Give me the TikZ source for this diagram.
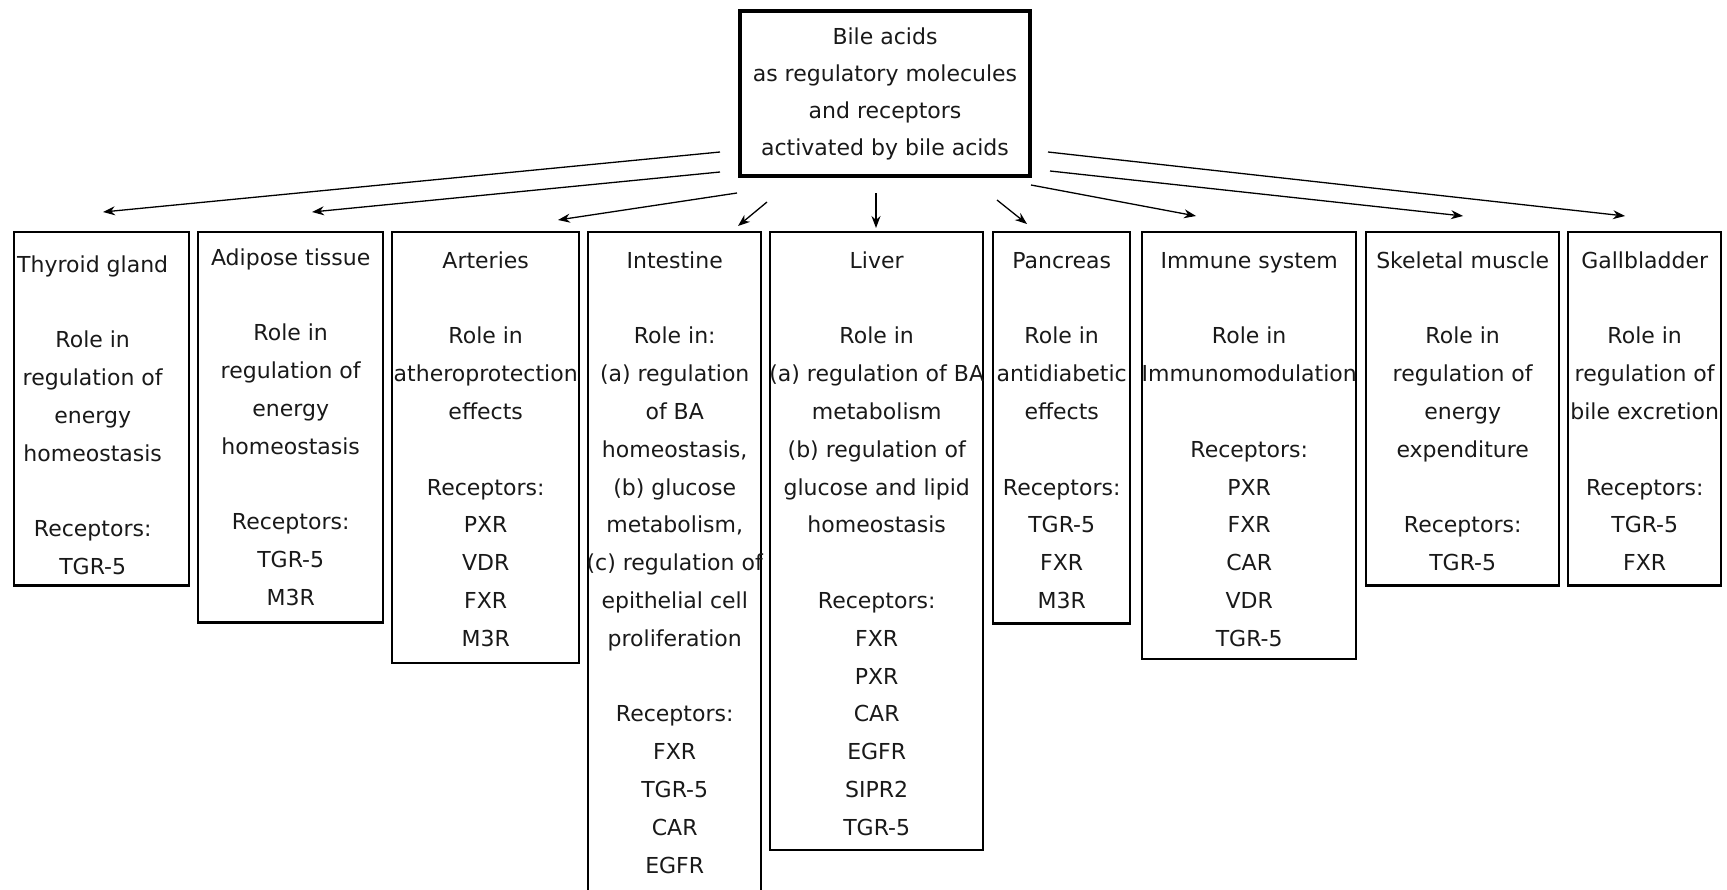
\documentclass[tikz,border=0pt]{standalone}
\usepackage{fontspec}
\setmainfont{DejaVu Sans}
\usetikzlibrary{arrows.meta}
\newcommand\tstr{\rule{0pt}{27pt}}
\newcommand\bstr{\rule[-6pt]{0pt}{6pt}}
\newcommand\ov[1]{\makebox[0pt]{#1}}
\newcommand\gap{\\[37.8pt]}
\newcommand\rt{\rule{18pt}{0pt}}
\begin{document}
\begin{tikzpicture}[x=1pt,y=-1pt,
  organ/.style={draw=black, line width=2.4pt, anchor=north west, align=center,
    inner xsep=0pt, inner ysep=9pt, font=\fontsize{22}{37.8}\selectfont, text=black!90},
  hub/.style={draw=black, line width=4pt, anchor=north west, align=center,
    minimum width=290pt, minimum height=165pt, inner sep=0pt,
    font=\fontsize{22}{37}\selectfont, text=black!90},
  link/.style={line width=1.3pt, -{Stealth[length=12pt,width=9pt]}}]
\useasboundingbox (0,0) rectangle (1727,889);

\node[hub] (top) at (738,9) {Bile acids\\as regulatory molecules\\and receptors\\activated by bile acids};

\node[organ, minimum width=175pt] (thy) at (13,231) {\rule{0pt}{31pt}Thyroid gland\rt\gap Role in\rt\\regulation of\rt\\energy\rt\\homeostasis\rt\gap Receptors:\rt\\TGR-5\rt\rule[-2pt]{0pt}{2pt}};
\node[organ, minimum width=185pt] (adi) at (197,231) {\rule{0pt}{24pt}Adipose tissue\gap Role in\\regulation of\\energy\\homeostasis\gap Receptors:\\TGR-5\\M3R\rule[-8pt]{0pt}{8pt}};
\node[organ, minimum width=187pt] (art) at (391,231) {\tstr Arteries\gap Role in\\\ov{atheroprotection}\\effects\gap Receptors:\\PXR\\VDR\\FXR\\M3R\rule[-8pt]{0pt}{8pt}};
\node[organ, minimum width=173pt] (int) at (587,231) {\tstr Intestine\gap Role in:\\(a) regulation\\of BA\\homeostasis,\\(b) glucose\\metabolism,\\\ov{(c) regulation of}\\epithelial cell\\proliferation\gap Receptors:\\FXR\\TGR-5\\CAR\\EGFR\rule[-40pt]{0pt}{40pt}};
\node[organ, minimum width=213pt] (liv) at (769,231) {\tstr Liver\gap Role in\\\ov{(a) regulation of BA}\\metabolism\\(b) regulation of\\glucose and lipid\\homeostasis\gap Receptors:\\FXR\\PXR\\CAR\\EGFR\\SIPR2\\TGR-5\bstr};
\node[organ, minimum width=137pt] (pan) at (992,231) {\tstr Pancreas\gap Role in\\\ov{antidiabetic}\\effects\gap Receptors:\\TGR-5\\FXR\\M3R\bstr};
\node[organ, minimum width=214pt] (imm) at (1141,231) {\tstr Immune system\gap Role in\\\ov{Immunomodulation}\gap Receptors:\\PXR\\FXR\\CAR\\VDR\\TGR-5\rule[-4pt]{0pt}{4pt}};
\node[organ, minimum width=193pt] (ske) at (1365,231) {\tstr Skeletal muscle\gap Role in\\regulation of\\energy\\expenditure\gap Receptors:\\TGR-5\bstr};
\node[organ, minimum width=153pt] (gal) at (1567,231) {\tstr Gallbladder\gap Role in\\regulation of\\\ov{bile excretion}\gap Receptors:\\TGR-5\\FXR\bstr};

\coordinate (s1) at (720,152);  \coordinate (e1) at (103,212);
\coordinate (s2) at (720,172);  \coordinate (e2) at (312,212);
\coordinate (s3) at (737,193);  \coordinate (e3) at (558,220);
\coordinate (s4) at (767,202);  \coordinate (e4) at (738,226);
\coordinate (s5) at (876,193);  \coordinate (e5) at (876,228);
\coordinate (s6) at (997,200);  \coordinate (e6) at (1027,224);
\coordinate (s7) at (1031,185); \coordinate (e7) at (1196,216);
\coordinate (s8) at (1050,171); \coordinate (e8) at (1463,216);
\coordinate (s9) at (1048,152); \coordinate (e9) at (1625,216);

\foreach \i in {1,...,9} \draw[link] (s\i) -- (e\i);
\end{tikzpicture}
\end{document}
